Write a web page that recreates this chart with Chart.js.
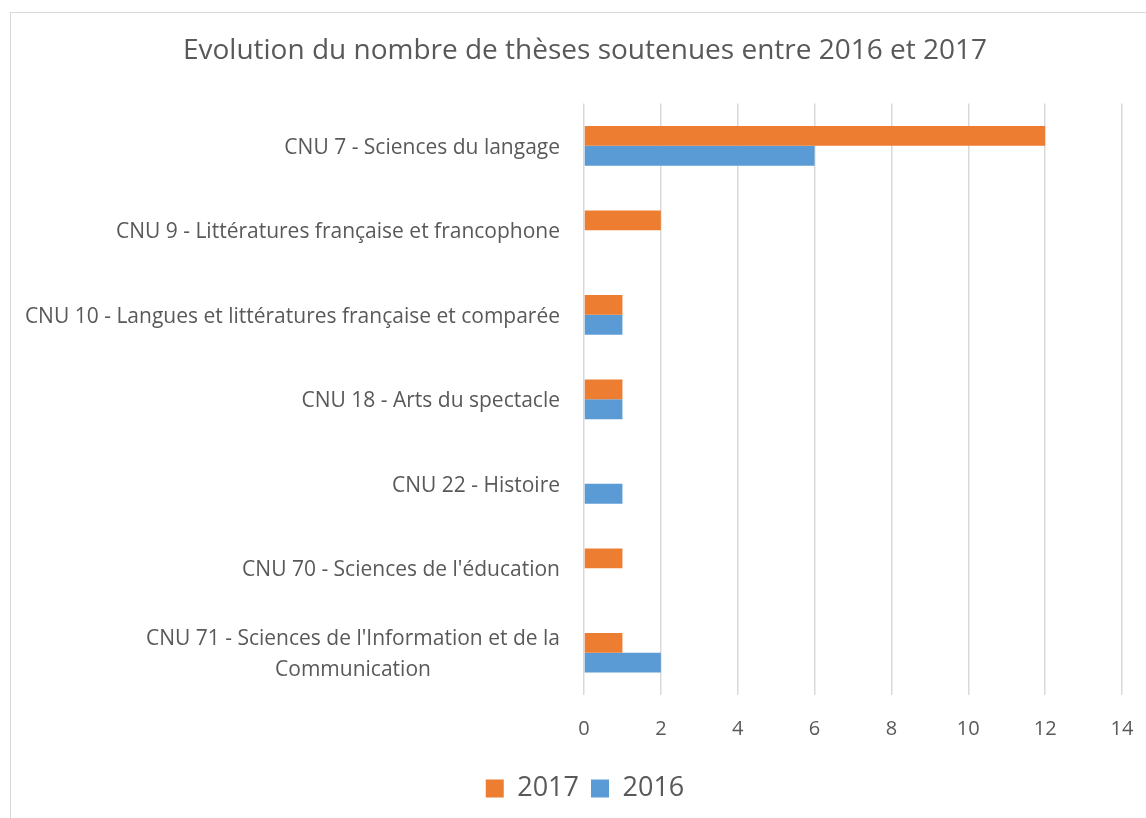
<!DOCTYPE html>
<html>
<head>
<meta charset="utf-8">
<script src="https://cdn.jsdelivr.net/npm/chart.js@4"></script>
<style>
  body { margin: 0; background: #fff; overflow: hidden; }
  #frame { position: absolute; left: 10px; top: 12px; width: 1160px; height: 830px; border: 1px solid #d9d9d9; }
  #wrap { position: absolute; left: 10px; top: 0; width: 1150px; height: 818px; }
</style>
</head>
<body>
<div id="frame"></div>
<div id="wrap"><canvas id="myChart" width="1150" height="818"></canvas></div>
<script>
const categories = [
  "CNU 7 - Sciences du langage",
  "CNU 9 - Littératures française et francophone",
  "CNU 10 - Langues et littératures française et comparée",
  "CNU 18 - Arts du spectacle",
  "CNU 22 - Histoire",
  "CNU 70 - Sciences de l'éducation",
  ["CNU 71 - Sciences de l'Information et de la", "Communication"],
];
const values2017 = [12, 2, 1, 1, null, 1, 1];
const values2016 = [6, null, 1, 1, 1, null, 2];
const xTicks = [0, 2, 4, 6, 8, 10, 12, 14];

const font = "'Open Sans', sans-serif";
const grey = "#595959";
const labelSize = 21;

// y labels drawn by hand so a wrapped label's lines are centred on each other
const centredLabels = {
  id: "centredLabels",
  afterDraw(chart) {
    const scale = chart.scales.y;
    const ctx = chart.ctx;
    ctx.save();
    ctx.font = labelSize + "px " + font;
    ctx.fillStyle = grey;
    ctx.textBaseline = "middle";
    ctx.textAlign = "center";
    const right = chart.chartArea.left - 24;
    const lineH = 31;
    categories.forEach((label, i) => {
      const lines = Array.isArray(label) ? label : [label];
      const widest = Math.max(...lines.map((l) => ctx.measureText(l).width));
      const cx = right - widest / 2;
      const y = scale.getPixelForTick(i);
      lines.forEach((line, j) => {
        ctx.fillText(line, cx, y + 2 + (j - (lines.length - 1) / 2) * lineH);
      });
    });
    ctx.restore();
  },
};

const config = {
  type: "bar",
  data: {
    labels: categories,
    datasets: [
      {
        label: "2017",
        backgroundColor: "#ED7D31",
        data: values2017,
        barPercentage: 1,
        categoryPercentage: 0.47,
      },
      {
        label: "2016",
        backgroundColor: "#5B9BD5",
        data: values2016,
        barPercentage: 1,
        categoryPercentage: 0.47,
      },
    ],
  },
  options: {
    indexAxis: "y",
    responsive: false,
    animation: false,
    layout: { padding: { left: 38, right: 38, top: 0, bottom: 6 } },
    scales: {
      x: {
        min: 0,
        max: 14,
        afterBuildTicks: (axis) => { axis.ticks = xTicks.map((v) => ({ value: v })); },
        grid: { color: "#d9d9d9", lineWidth: 1.5, drawTicks: false },
        border: { display: false },
        ticks: { color: grey, font: { family: font, size: 20 }, padding: 22 },
      },
      y: {
        grid: { display: false },
        border: { display: false },
        ticks: { display: false },
        afterFit: (scale) => { scale.width = 536; },
      },
    },
    plugins: {
      title: {
        display: true,
        text: "Evolution du nombre de thèses soutenues entre 2016 et 2017",
        color: grey,
        font: { family: font, size: 28, weight: "normal" },
        padding: { top: 34, bottom: 36 },
      },
      legend: {
        position: "bottom",
        labels: {
          color: grey,
          font: { family: font, size: 27 },
          boxWidth: 18,
          boxHeight: 18,
          padding: 12,
        },
      },
      tooltip: { enabled: false },
    },
  },
  plugins: [centredLabels],
};

new Chart(document.getElementById("myChart"), config);
</script>
</body>
</html>
